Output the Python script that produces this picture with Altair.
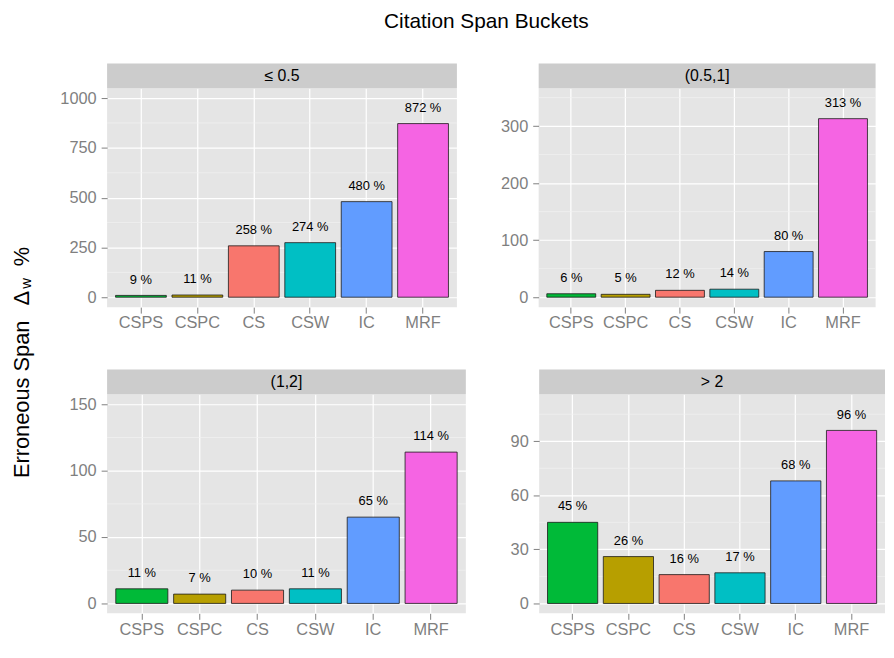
import altair as alt
import pandas as pd

# ---- data ----
methods = ["CSPS", "CSPC", "CS", "CSW", "IC", "MRF"]
method_colors = ["#00BA38", "#B79F00", "#F8766D", "#00BFC4", "#619CFF", "#F564E3"]
buckets = ["≤ 0.5", "(0.5,1]", "(1,2]", "> 2"]
values_le_05 = [9, 11, 258, 274, 480, 872]
values_05_1 = [6, 5, 12, 14, 80, 313]
values_1_2 = [11, 7, 10, 11, 65, 114]
values_gt_2 = [45, 26, 16, 17, 68, 96]
y_domains = [[-50, 1050], [-17.5, 366.5], [-7.5, 157.5], [-5.5, 116]]
major_ticks = [[0, 250, 500, 750, 1000], [0, 100, 200, 300], [0, 50, 100, 150], [0, 30, 60, 90]]
minor_ticks = [[125, 375, 625, 875], [50, 150, 250, 350], [25, 75, 125], [15, 45, 75, 105]]

all_values = [values_le_05, values_05_1, values_1_2, values_gt_2]

FONT = "Liberation Sans"
PLOT_H = 221
STRIP_H = 25


def panel(i, width):
    df = pd.DataFrame({
        "method": methods,
        "value": all_values[i],
        "label": [f"{v} %" for v in all_values[i]],
    })
    yscale = alt.Scale(domain=y_domains[i], nice=False, zero=False)
    yaxis = alt.Axis(title=None, values=major_ticks[i], format="d", grid=True, gridColor="white",
                     gridWidth=1.2, domain=False, tickSize=6, labelPadding=5,
                     labelFontSize=16.5, labelColor="#7F7F7F", tickColor="#7F7F7F",
                     labelFont=FONT)
    x = alt.X(
        "method:N",
        sort=methods,
        scale=alt.Scale(domain=methods, paddingInner=0.1, paddingOuter=0.15),
        axis=alt.Axis(title=None, labelAngle=0, grid=True, bandPosition=0.5,
                      gridColor="white", gridWidth=1.2, domain=False,
                      tickSize=6, labelPadding=2, labelFontSize=16.5,
                      labelColor="#7F7F7F", tickColor="#7F7F7F", labelFont=FONT),
    )
    minor = alt.Chart(pd.DataFrame({"m": minor_ticks[i]})).mark_rule(
        color="#F2F2F2", strokeWidth=0.7
    ).encode(y=alt.Y("m:Q", scale=yscale, axis=yaxis))
    bars = alt.Chart(df).mark_bar(stroke="#1a1a1a", strokeWidth=0.8).encode(
        x=x,
        y=alt.Y("value:Q", scale=yscale, axis=yaxis),
        color=alt.Color("method:N", scale=alt.Scale(domain=methods, range=method_colors), legend=None),
    )
    labels = alt.Chart(df).mark_text(dy=-16, fontSize=13, font=FONT, color="black").encode(
        x=alt.X("method:N", sort=methods),
        y=alt.Y("value:Q"),
        text="label:N",
    )
    sdf = pd.DataFrame({"bucket": [buckets[i]]})
    strip = alt.Chart(sdf).mark_rect(color="#CCCCCC").encode(
        x=alt.value(0), x2=alt.value(width), y=alt.value(-STRIP_H), y2=alt.value(0)
    )
    strip_text = alt.Chart(sdf).mark_text(fontSize=16, font=FONT, color="black", baseline="middle").encode(
        x=alt.value(width / 2), y=alt.value(-STRIP_H / 2), text="bucket:N"
    )
    return alt.layer(minor, bars, labels, strip, strip_text).properties(
        width=width, height=PLOT_H,
        view=alt.ViewBackground(fill="#E5E5E5", strokeWidth=0),
    )


row1 = alt.hconcat(panel(0, 353), panel(1, 340), spacing=42.5)
row2 = alt.hconcat(panel(2, 362), panel(3, 349), spacing=43)
grid = alt.vconcat(row1, row2, spacing=38)

tdf = pd.DataFrame({"t": ["Erroneous Span"]})
ytitle_main = alt.Chart(tdf).mark_text(angle=270, fontSize=22, font=FONT, color="black",
                                       baseline="alphabetic", align="center").encode(
    x=alt.value(21), y=alt.value(314), text="t:N")
ytitle_delta = alt.Chart(pd.DataFrame({"t": ["Δ"]})).mark_text(
    angle=270, fontSize=22, font=FONT, color="black", baseline="alphabetic", align="center").encode(
    x=alt.value(21), y=alt.value(212), text="t:N")
ytitle_w = alt.Chart(pd.DataFrame({"t": ["w"]})).mark_text(
    angle=270, fontSize=15, font=FONT, color="black", baseline="alphabetic", align="center").encode(
    x=alt.value(23), y=alt.value(197), text="t:N")
ytitle_pct = alt.Chart(pd.DataFrame({"t": ["%"]})).mark_text(
    angle=270, fontSize=22, font=FONT, color="black", baseline="alphabetic", align="center").encode(
    x=alt.value(21), y=alt.value(170), text="t:N")
ytitle = alt.layer(ytitle_main, ytitle_delta, ytitle_w, ytitle_pct).properties(
    width=25, height=400, view=alt.ViewBackground(strokeWidth=0))

chart = alt.hconcat(ytitle, grid, spacing=26).properties(
    title=alt.TitleParams("Citation Span Buckets", fontSize=21, font=FONT, fontWeight="normal",
                          color="black", anchor="middle", dx=40, offset=32),
    padding={"left": 0, "top": 0, "right": 0, "bottom": 0},
).configure(font=FONT).configure_view(strokeWidth=0)

chart.save("out.html", embed_options={"renderer": "svg", "actions": False})
